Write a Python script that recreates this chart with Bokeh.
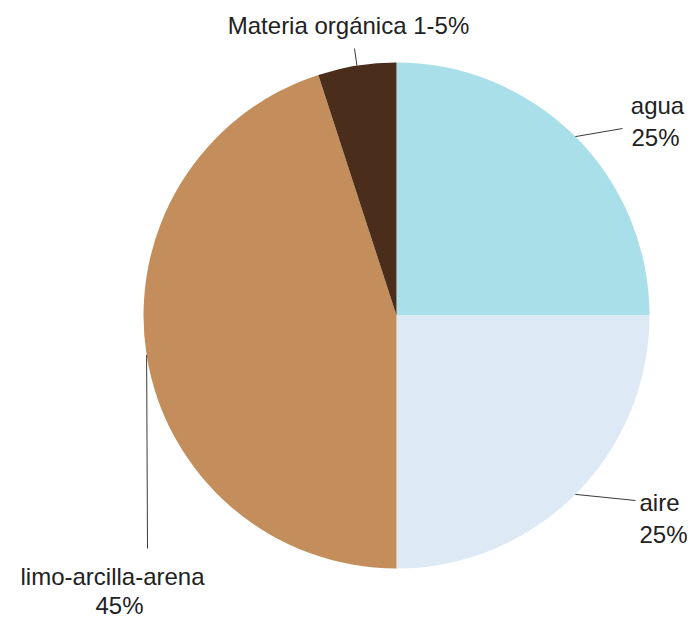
import numpy as np
from bokeh.plotting import figure
from bokeh.models import Range1d, ColumnDataSource
from bokeh.embed import file_html
from bokeh.resources import INLINE
from bokeh.core.properties import value

# ---- data ----
categories = ["agua", "aire", "limo-arcilla-arena", "Materia orgánica"]
values = [25, 25, 45, 5]
pct_labels = ["25%", "25%", "45%", "1-5%"]
colors = ["#a8dfe9", "#dde9f5", "#c38e5c", "#4a2d1b"]

# ---- layout (pixel coords, y down) ----
W, H = 692, 621
CX, CY_PX, R = 396, 315, 253
CY = H - CY_PX
FONT = "Liberation Sans"
FS = "24px"

p = figure(width=W, height=H, x_range=Range1d(0, W), y_range=Range1d(0, H),
           output_backend="svg", toolbar_location=None, min_border=0)
p.axis.visible = False
p.grid.visible = False
p.outline_line_color = None
p.background_fill_color = "white"
p.border_fill_color = "white"

vals = np.array(values, dtype=float)
frac = vals / vals.sum()
c1 = np.cumsum(frac)
c0 = c1 - frac
start = np.pi / 2 - 2 * np.pi * c1
end = np.pi / 2 - 2 * np.pi * c0
mid = (start + end) / 2

src = ColumnDataSource(dict(x=[CX] * len(values), y=[CY] * len(values),
                            start=start, end=end, color=colors, cat=categories))
p.wedge(x="x", y="y", radius=R, start_angle="start", end_angle="end",
        fill_color="color", line_color=None, source=src)

# leader lines: from slice edge at mid-angle to label
leader_end_px = [(622, 128), (635, 500), (147, 548), (354, 48)]
xs, ys = [], []
for m, (ex, ey) in zip(mid, leader_end_px):
    sx = CX + R * np.cos(m)
    sy = CY + R * np.sin(m)
    xs.append([sx, ex])
    ys.append([sy, H - ey])
p.multi_line(xs=xs, ys=ys, line_color="#3a3a3a", line_width=1)

# labels
name_pos_px = [(657, 105), (659, 502), (112, 576)]
pct_pos_px = [(655, 137), (663, 534), (119, 605)]
for i in range(3):
    nx, ny = name_pos_px[i]
    px_, py_ = pct_pos_px[i]
    p.text(x=[nx], y=[H - ny], text=[categories[i]], text_align="center",
           text_baseline="middle", text_font=value(FONT), text_font_size=FS,
           text_color="#222222")
    p.text(x=[px_], y=[H - py_], text=[pct_labels[i]], text_align="center",
           text_baseline="middle", text_font=value(FONT), text_font_size=FS,
           text_color="#222222")
p.text(x=[348], y=[H - 25], text=[categories[3] + " " + pct_labels[3]],
       text_align="center", text_baseline="middle", text_font=value(FONT),
       text_font_size=FS, text_color="#222222")

open("out.html", "w").write(file_html(p, INLINE))
